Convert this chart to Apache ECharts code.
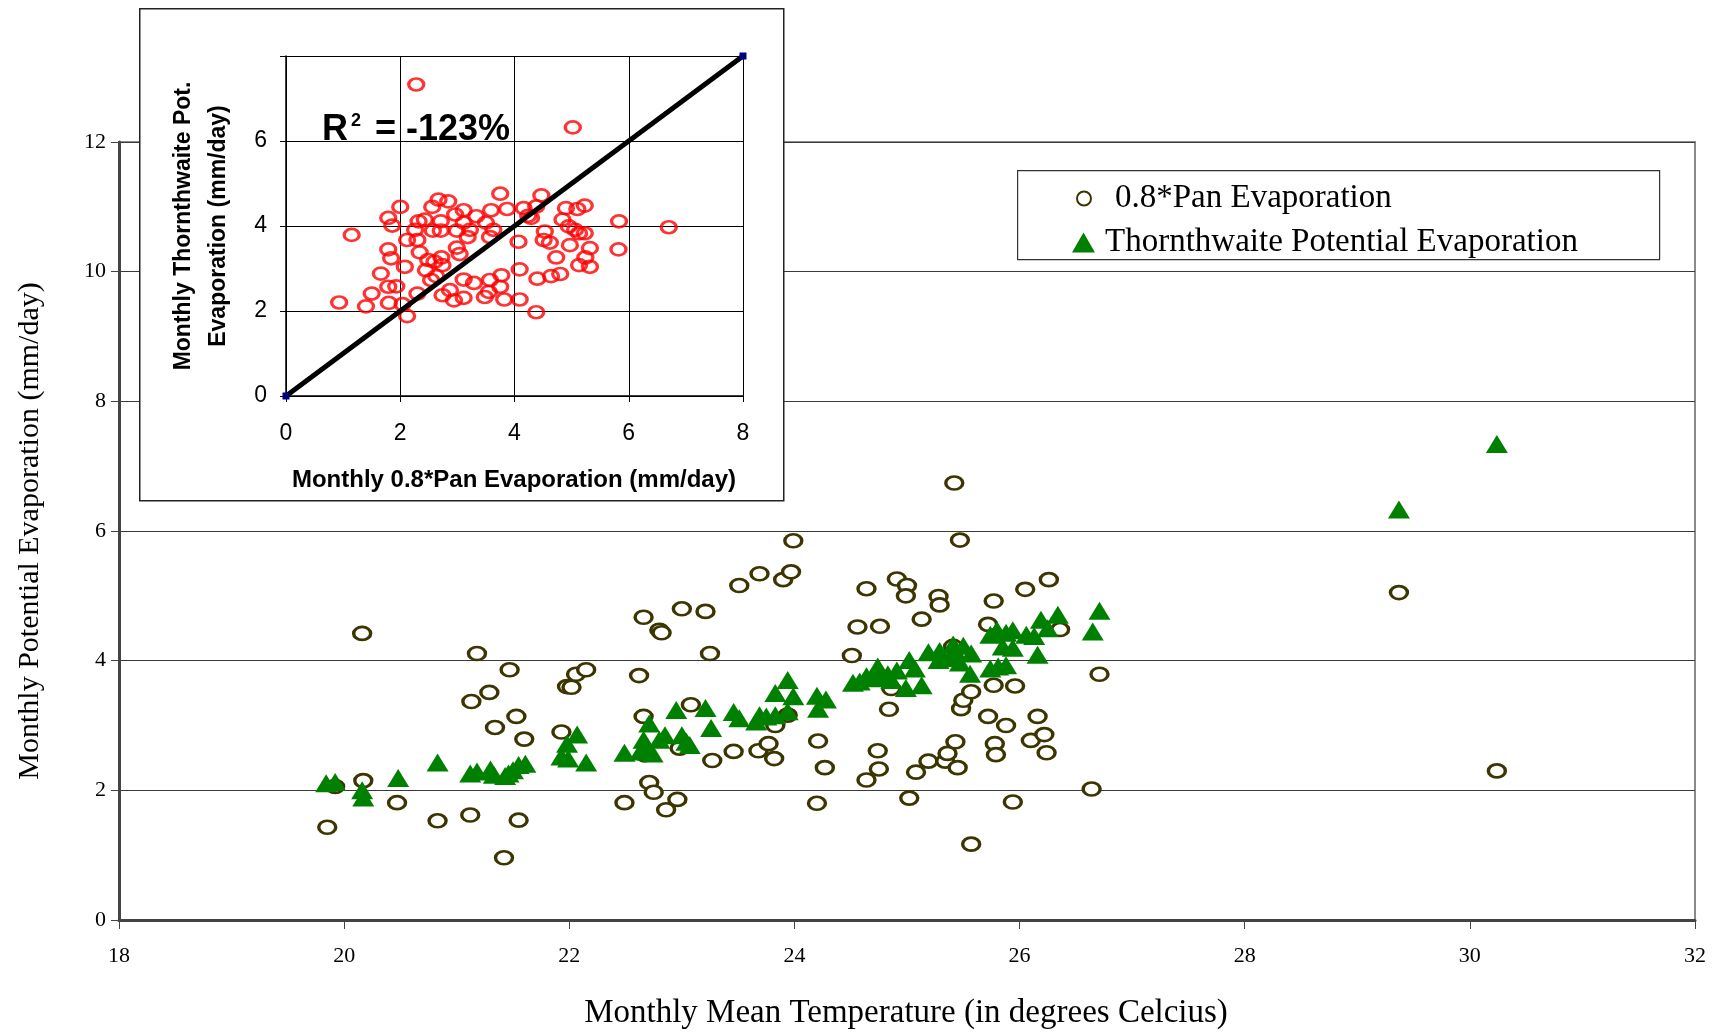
<!DOCTYPE html>
<html>
<head>
<meta charset="utf-8">
<script src="https://cdn.jsdelivr.net/npm/echarts@6/dist/echarts.min.js"></script>
<style>
  html, body { margin: 0; padding: 0; background: #fff; }
  #chart { width: 1717px; height: 1033px; }
</style>
</head>
<body>
<div id="chart"></div>
<script>
// Monthly mean temperature (deg C) and 0.8 * pan evaporation (mm/day)
const panTemp = [19.85, 19.92, 20.16, 20.17, 20.47, 20.83, 21.12, 21.13, 21.18, 21.29,
  21.34, 21.42, 21.47, 21.53, 21.55, 21.60, 21.93, 21.98, 22.02, 22.06,
  22.15, 22.49, 22.62, 22.66, 22.80, 22.82, 22.66, 22.67, 22.71, 22.75,
  22.86, 22.96, 22.98, 23.00, 23.08, 23.21, 23.25, 23.27, 23.46, 23.51,
  23.68, 23.69, 23.77, 23.82, 23.83, 23.90, 23.94, 23.97, 23.99, 24.20,
  24.21, 24.27, 24.51, 24.56, 24.64, 24.64, 24.74, 24.75, 24.76, 24.84,
  24.86, 24.91, 25.00, 24.99, 25.02, 25.08, 25.13, 25.19, 25.28, 25.29,
  25.34, 25.36, 25.41, 25.42, 25.43, 25.45, 25.47, 25.48, 25.50, 25.57,
  25.57, 25.72, 25.72, 25.77, 25.77, 25.78, 25.79, 25.88, 25.94, 25.96,
  26.05, 26.10, 26.16, 26.22, 26.24, 26.26, 26.36, 26.64, 26.71, 29.37, 30.24];
const panValue = [1.43, 2.06, 4.42, 2.15, 1.81, 1.53, 1.62, 3.37, 4.11, 3.51,
  2.97, 0.96, 3.86, 3.14, 1.54, 2.79, 2.90, 3.60, 3.59, 3.79,
  3.86, 1.81, 3.77, 4.67, 4.47, 4.43, 3.14, 2.55, 2.12, 1.97,
  1.70, 1.86, 2.65, 4.80, 3.32, 4.76, 4.11, 2.46, 2.60, 5.16,
  2.61, 5.34, 2.72, 2.49, 3.00, 5.25, 3.16, 5.37, 5.85, 1.80,
  2.76, 2.35, 4.08, 4.52, 5.11, 2.16, 2.61, 2.33, 4.53, 3.25,
  3.57, 5.26, 5.16, 5.00, 1.88, 2.28, 4.64, 2.45, 4.99, 4.86,
  2.45, 2.57, 4.22, 6.74, 2.75, 2.35, 5.86, 3.26, 3.39, 3.52,
  1.17, 4.56, 3.14, 4.92, 3.62, 2.72, 2.55, 3.00, 1.82, 3.61,
  5.10, 2.77, 3.14, 2.86, 2.58, 5.25, 4.48, 2.02, 3.79, 5.05, 2.30];

// Monthly mean temperature (deg C) and Thornthwaite potential evaporation (mm/day)
const thornTemp = [19.84, 19.92, 20.16, 20.17, 20.48, 20.83, 21.12, 21.18, 21.30, 21.33,
  21.43, 21.46, 21.50, 21.55, 21.61, 21.93, 21.98, 21.99, 22.07, 22.15,
  22.49, 22.63, 22.66, 22.71, 22.74, 22.68, 22.85, 22.80, 22.95, 23.00,
  23.04, 23.07, 23.21, 23.26, 23.46, 23.51, 23.66, 23.69, 23.75, 23.83,
  23.83, 23.94, 23.99, 23.94, 24.20, 24.28, 24.21, 24.52, 24.58, 24.64,
  24.70, 24.74, 24.74, 24.83, 24.91, 24.86, 25.02, 25.07, 24.99, 25.13,
  25.19, 25.29, 25.28, 25.38, 25.41, 25.50, 25.57, 25.47, 25.56, 25.44,
  25.74, 25.80, 25.88, 25.94, 25.85, 25.94, 26.06, 26.13, 25.74, 25.81,
  25.88, 26.16, 26.19, 26.25, 26.34, 26.71, 26.65, 29.37, 30.24];
const thornValue = [2.11, 2.13, 2.00, 1.89, 2.19, 2.43, 2.26, 2.29, 2.32, 2.24,
  2.22, 2.26, 2.31, 2.39, 2.41, 2.52, 2.72, 2.49, 2.86, 2.43,
  2.58, 2.60, 2.78, 3.03, 2.57, 2.68, 2.85, 2.78, 3.24, 2.85,
  2.75, 2.70, 3.27, 2.96, 3.21, 3.11, 3.06, 3.16, 3.14, 3.16,
  3.50, 3.70, 3.45, 3.22, 3.46, 3.40, 3.26, 3.66, 3.68, 3.76,
  3.73, 3.91, 3.76, 3.79, 3.85, 3.70, 4.01, 3.88, 3.58, 3.62,
  4.13, 4.15, 4.01, 4.04, 4.25, 4.23, 4.11, 3.97, 3.80, 4.12,
  4.40, 4.47, 4.43, 4.47, 4.22, 4.20, 4.40, 4.38, 3.88, 3.91,
  3.93, 4.09, 4.63, 4.50, 4.71, 4.77, 4.45, 6.33, 7.34];

// Inset: monthly 0.8*Pan (x) against monthly Thornthwaite (y), mm/day
const insetPan = [2.28, 5.02, 1.15, 0.93, 1.40, 1.50, 1.66, 1.79, 1.80, 1.93,
  1.79, 1.86, 1.79, 1.84, 2.00, 2.08, 2.04, 2.12, 2.12, 2.26,
  2.32, 2.30, 2.34, 2.30, 2.43, 2.45, 2.54, 2.56, 2.67, 2.57,
  2.71, 2.71, 2.60, 2.72, 2.74, 2.63, 2.74, 2.84, 2.96, 2.99,
  2.99, 2.87, 2.94, 3.11, 3.11, 3.22, 3.18, 3.11, 3.11, 3.33,
  3.29, 3.50, 3.59, 3.57, 3.63, 3.48, 3.57, 3.55, 3.75, 3.87,
  3.77, 3.75, 3.82, 4.07, 4.09, 4.09, 4.16, 4.24, 4.29, 4.38,
  4.47, 4.38, 4.40, 4.53, 4.51, 4.62, 4.64, 4.73, 4.80, 4.90,
  4.84, 4.95, 4.97, 5.10, 5.13, 5.13, 5.23, 5.23, 5.24, 5.32,
  5.32, 5.83, 5.82, 6.70, 5.06, 3.04, 2.49];
const insetThorn = [7.33, 6.32, 3.79, 2.20, 2.11, 2.41, 2.88, 2.57, 2.19, 2.58,
  4.19, 4.01, 3.45, 3.24, 4.45, 3.04, 2.16, 1.88, 3.67, 3.91,
  4.11, 3.67, 3.38, 2.41, 4.15, 2.96, 2.73, 4.45, 4.62, 3.89,
  4.11, 3.89, 3.16, 3.26, 3.08, 2.82, 2.37, 4.58, 4.27, 3.89,
  3.49, 2.49, 2.25, 4.37, 4.08, 3.91, 3.74, 2.74, 2.31, 4.23,
  2.66, 4.08, 4.37, 3.74, 3.91, 2.33, 2.73, 2.45, 4.76, 4.40,
  2.84, 2.57, 2.27, 3.63, 2.98, 2.27, 4.42, 4.24, 4.19, 4.46,
  4.72, 1.97, 2.76, 3.87, 3.67, 3.61, 2.82, 3.26, 2.87, 4.42,
  4.15, 3.99, 3.55, 4.40, 3.83, 3.08, 4.48, 3.83, 3.26, 3.48,
  3.04, 4.11, 3.45, 3.97, 3.91, 3.34, 3.20];

// 1:1 reference line of the inset
const oneToOne = [0, 8];

const mainTicksX = { min: 18, max: 32, interval: 2 };
const mainTicksY = { min: 0, max: 12, interval: 2 };
const insetTicks = { min: 0, max: 8, interval: 2 };

const pairs = (xs, ys) => xs.map((x, i) => [x, ys[i]]);

const serif = '"Liberation Serif", "Times New Roman", serif';
const sans = '"Liberation Sans", Arial, sans-serif';

const chart = echarts.init(document.getElementById('chart'), null, { renderer: 'canvas' });

chart.setOption({
  backgroundColor: '#ffffff',
  animation: false,
  grid: [
    { left: 119, top: 142, width: 1576, height: 778, show: true,
      borderColor: '#8a8a8a', borderWidth: 2, backgroundColor: '#fff', z: 0 },
    { left: 286, top: 56, width: 457, height: 340, show: false, z: 6 }
  ],
  xAxis: [
    { type: 'value', gridIndex: 0, min: mainTicksX.min, max: mainTicksX.max, interval: mainTicksX.interval,
      axisLine: { show: true, onZero: false, lineStyle: { color: '#444', width: 3 } },
      axisTick: { show: true, inside: false, length: 9, lineStyle: { color: '#444', width: 1 } },
      axisLabel: { margin: 25, color: '#000', fontFamily: serif, fontSize: 22 },
      splitLine: { show: false } },
    { type: 'value', gridIndex: 1, min: insetTicks.min, max: insetTicks.max, interval: insetTicks.interval, z: 7,
      axisLine: { show: true, onZero: false, lineStyle: { color: '#000', width: 1.5 } },
      axisTick: { show: true, length: 6, lineStyle: { color: '#000', width: 1 } },
      axisLabel: { margin: 26, color: '#000', fontFamily: sans, fontSize: 23 },
      splitLine: { show: true, lineStyle: { color: '#000', width: 1 } } }
  ],
  yAxis: [
    { type: 'value', gridIndex: 0, min: mainTicksY.min, max: mainTicksY.max, interval: mainTicksY.interval,
      axisLine: { show: true, onZero: false, lineStyle: { color: '#444', width: 3 } },
      axisTick: { show: true, length: 8, lineStyle: { color: '#444', width: 1 } },
      axisLabel: { margin: 13, color: '#000', fontFamily: serif, fontSize: 22 },
      splitLine: { show: true, lineStyle: { color: '#3a3a3a', width: 1.2 } } },
    { type: 'value', gridIndex: 1, min: insetTicks.min, max: insetTicks.max, interval: insetTicks.interval, z: 7,
      axisLine: { show: true, onZero: false, lineStyle: { color: '#000', width: 1.5 } },
      axisTick: { show: true, length: 6, lineStyle: { color: '#000', width: 1 } },
      axisLabel: { margin: 19, color: '#000', fontFamily: sans, fontSize: 23,
        formatter: v => (v === insetTicks.max ? '' : String(v)) },
      splitLine: { show: true, lineStyle: { color: '#000', width: 1 } } }
  ],
  legend: [
    { data: ['0.8*Pan Evaporation'], left: 1071, top: 177, orient: 'vertical',
      itemWidth: 16, itemHeight: 14, itemGap: 0, selectedMode: false,
      textStyle: { fontFamily: serif, fontSize: 33, color: '#000', padding: [0, 0, 0, 18] } },
    { data: ['Thornthwaite Potential Evaporation'], left: 1067, top: 221, orient: 'vertical',
      itemWidth: 23, itemHeight: 20, itemGap: 0, selectedMode: false,
      textStyle: { fontFamily: serif, fontSize: 33, color: '#000', padding: [0, 0, 0, 5] } }
  ],
  graphic: [
    // legend frame
    { type: 'rect', left: 1017, top: 170, z: 1,
      shape: { width: 642, height: 89 },
      style: { fill: '#fff', stroke: '#333', lineWidth: 1.2 } },
    // inset panel
    { type: 'rect', left: 139, top: 8, z: 5,
      shape: { width: 644, height: 492 },
      style: { fill: '#fff', stroke: '#222', lineWidth: 1.5 } },
    // main axis titles
    { type: 'text', x: 30, y: 531, rotation: Math.PI / 2, z: 3,
      style: { text: 'Monthly Potential Evaporation (mm/day)', fontFamily: serif, fontSize: 30,
        fill: '#000', align: 'center', verticalAlign: 'middle' } },
    { type: 'text', x: 906, y: 1013, z: 3,
      style: { text: 'Monthly Mean Temperature (in degrees Celcius)', fontFamily: serif, fontSize: 33,
        fill: '#000', align: 'center', verticalAlign: 'middle' } },
    // inset axis titles
    { type: 'text', x: 201, y: 226, rotation: Math.PI / 2, z: 9,
      style: { text: 'Monthly Thornthwaite Pot.\nEvaporation (mm/day)', fontFamily: sans, fontWeight: 'bold',
        fontSize: 23, lineHeight: 35, fill: '#000', align: 'center', verticalAlign: 'middle' } },
    { type: 'text', x: 514, y: 480, z: 9,
      style: { text: 'Monthly 0.8*Pan Evaporation (mm/day)', fontFamily: sans, fontWeight: 'bold',
        fontSize: 24, fill: '#000', align: 'center', verticalAlign: 'middle' } },
    // goodness of fit
    { type: 'text', x: 322, y: 130, z: 9,
      style: { text: '{a|R}{b|2}{a|= -123%}', align: 'left', verticalAlign: 'middle',
        rich: {
          a: { fontFamily: sans, fontWeight: 'bold', fontSize: 36, fill: '#000', verticalAlign: 'middle' },
          b: { fontFamily: sans, fontWeight: 'bold', fontSize: 18, fill: '#000', verticalAlign: 'top', padding: [0, 14, 0, 3] }
        } } }
  ],
  series: [
    { name: '0.8*Pan Evaporation', type: 'scatter', xAxisIndex: 0, yAxisIndex: 0, z: 2,
      symbol: 'circle', symbolSize: [17, 13],
      itemStyle: { color: '#ffffff', opacity: 1, borderColor: '#3b3600', borderWidth: 3 },
      data: pairs(panTemp, panValue) },
    { name: 'Thornthwaite Potential Evaporation', type: 'scatter', xAxisIndex: 0, yAxisIndex: 0, z: 3,
      symbol: 'triangle', symbolSize: [22, 18],
      itemStyle: { color: '#008000', opacity: 1 },
      data: pairs(thornTemp, thornValue) },
    { name: 'inset', type: 'scatter', xAxisIndex: 1, yAxisIndex: 1, z: 8,
      symbol: 'circle', symbolSize: [15, 12],
      itemStyle: { color: 'rgba(255,255,255,0)', borderColor: '#ff0000', borderWidth: 3 },
      data: pairs(insetPan, insetThorn) },
    { name: '1:1', type: 'line', xAxisIndex: 1, yAxisIndex: 1, z: 9,
      symbol: 'rect', symbolSize: 7, showSymbol: true,
      itemStyle: { color: '#000080' },
      lineStyle: { color: '#000', width: 5 },
      data: pairs(oneToOne, oneToOne) }
  ]
});
</script>
</body>
</html>
